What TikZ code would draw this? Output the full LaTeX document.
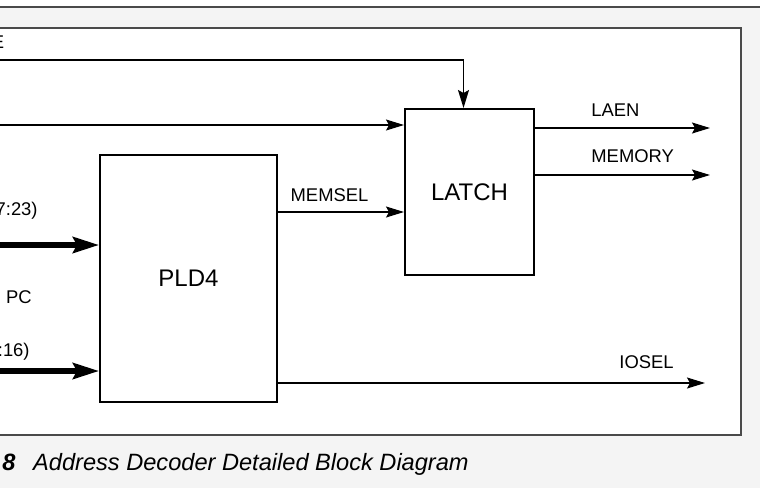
\documentclass[tikz,border=0pt]{standalone}
\usepackage{fontspec}
\setmainfont{Liberation Sans}
\usetikzlibrary{arrows.meta}
\definecolor{pagegray}{HTML}{F4F4F4}
\definecolor{framegray}{HTML}{4A4A4A}

\begin{document}
\begin{tikzpicture}[x=0.5pt, y=-0.5pt, font=\fontsize{9.2}{11}\selectfont, line join=miter,
		wire/.style={line width=0.6pt, -{Stealth[length=9pt, width=5.5pt, inset=1.5pt]}},
		bus/.style={line width=2.6pt, -{Stealth[length=13pt, width=8pt, inset=2pt]}},
		block/.style={draw, line width=1pt, fill=white, font=\fontsize{12}{14}\selectfont},
		lbl/.style={inner sep=0pt}]
	\useasboundingbox (0,0) rectangle (760,488);
	% page and frame
	\fill[white] (0,0) rectangle (760,7);
	\fill[pagegray] (0,7) rectangle (760,488);
	\draw[framegray, line width=0.7pt] (0,7) -- (760,7);
	\draw[framegray, line width=0.7pt, fill=white] (-10,28) rectangle (741,435);

	% blocks
	\node[block, minimum width=88.5pt, minimum height=123.5pt] (pld) at (188.5,278.5) {PLD4};
	\node[block, minimum width=64.5pt, minimum height=83pt] (latch) at (469.5,192) {LATCH};

	% free ends
	\coordinate (aleIn) at (-10,60);
	\coordinate (clkIn) at (-10,125);
	\coordinate (hiIn) at (-10,245);
	\coordinate (loIn) at (-10,371);
	\coordinate (memselY) at (0,212);
	\coordinate (laenOut) at (710,128);
	\coordinate (memOut) at (710,175);
	\coordinate (ioOut) at (705,383);

	% connections
	\draw[wire] (aleIn) -| ([xshift=-3pt]latch.north);
	\draw[wire] (clkIn) -- (clkIn -| latch.west);
	\draw[wire] (pld.east |- memselY) -- (latch.west |- memselY);
	\draw[wire] (latch.east |- laenOut) -- (laenOut);
	\draw[wire] (latch.east |- memOut) -- (memOut);
	\draw[wire] (pld.east |- ioOut) -- (ioOut);
	\draw[bus] (hiIn) -- (hiIn -| pld.west);
	\draw[bus] (loIn) -- (loIn -| pld.west);

	% labels
	\node[lbl, anchor=east] (aleLbl) at (4.5,42) {E};
	\node[lbl, anchor=east] (hiLbl) at (38,211) {7:23)};
	\node[lbl, anchor=east] (pcLbl) at (32,297) {n PC};
	\node[lbl, anchor=east] (loLbl) at (30,352) {:16)};
	\node[lbl] (memselLbl) at (329.5,195) {MEMSEL};
	\node[lbl, anchor=west] (laenLbl) at (591,110) {LAEN};
	\node[lbl, anchor=west] (memLbl) at (591,156) {MEMORY};
	\node[lbl, anchor=west] (ioLbl) at (619,362) {IOSEL};
	\node[lbl, anchor=west, font=\fontsize{11.8}{14}\selectfont\itshape] (caption) at (2,464)
		{\textbf{8}\hspace{0.75em}Address Decoder Detailed Block Diagram};
\end{tikzpicture}
\end{document}
